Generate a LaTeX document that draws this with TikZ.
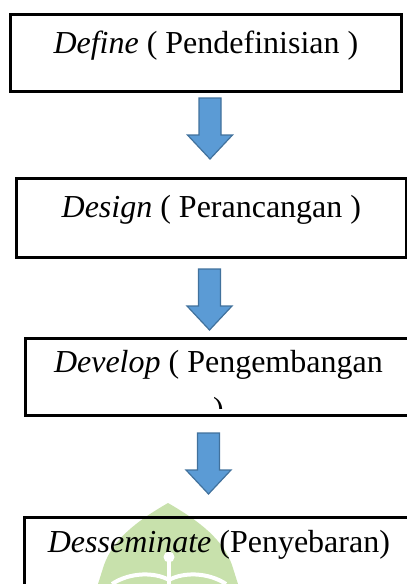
\documentclass[tikz,border=0pt]{standalone}
\usepackage{fontspec}
\setmainfont{Liberation Serif}
\usetikzlibrary{calc}

\definecolor{arrowblue}{RGB}{91,155,213}
\definecolor{arrowedge}{RGB}{65,113,156}
\definecolor{leafgreen}{RGB}{200,225,172}

\tikzset{
  stagebox/.style={draw,rectangle,line width=2.8pt,inner sep=0pt,anchor=north west},
  stagetext/.style={anchor=base,inner sep=0pt,font=\fontsize{32}{38}\selectfont},
  downarrow/.pic={
    \draw[fill=arrowblue,draw=arrowedge,line width=1.2pt,line join=miter]
      (-11,0)--(11,0)--(11,37)--(22.5,37)--(0,61)--(-22.5,37)--(-11,37)--cycle;
  }
}

\begin{document}
\begin{tikzpicture}[x=1pt,y=-1pt]
\useasboundingbox (0,0) rectangle (407,584);
\clip (0,0) rectangle (407,584);
% logo behind the last stage
\fill[leafgreen] (168,503) .. controls (135,522) and (113,540) .. (104,565) -- (98,584)
  -- (238,584) -- (232,565) .. controls (223,540) and (201,522) .. (168,503) -- cycle;
\fill[white] (169,557) circle (5.5);
\draw[white,line width=3.5pt] (169,562)--(169,584);
\draw[white,line width=4pt] (112,584) .. controls (130,572) and (155,572) .. (169,580);
\draw[white,line width=4pt] (226,584) .. controls (208,572) and (183,572) .. (169,580);

\node[stagebox,minimum width=391,minimum height=77] (define) at (9,13) {};
\node[stagebox,minimum width=390,minimum height=79] (design) at (15,177) {};
\node[stagebox,minimum width=386,minimum height=77] (develop) at (24,337) {};
\node[stagebox,minimum width=389,minimum height=110] (disseminate) at (23,516) {};

\node[stagetext] (definelbl) at ($(define.north)+(0,40)$) {\textit{Define} ( Pendefinisian )};
\node[stagetext] (designlbl) at ($(design.north)+(0,40)$) {\textit{Design} ( Perancangan )};
\node[stagetext] (developlbl) at ($(develop.north)+(0,35)$) {\textit{Develop} ( Pengembangan};
\node[stagetext] (disseminatelbl) at ($(disseminate.north)+(0,36)$) {\textit{Desseminate} (Penyebaran)};
% second line of the develop label is cut off by its box
\begin{scope}
\clip ($(develop.north west)+(2,2)$) rectangle ($(develop.south east)+(-2,-8)$);
\node[stagetext] (developend) at ($(develop.north)+(0,82)$) {)};
\end{scope}

\pic at (210,98) {downarrow};
\pic at (209.5,269) {downarrow};
\pic at (208.5,433) {downarrow};
\end{tikzpicture}
\end{document}
